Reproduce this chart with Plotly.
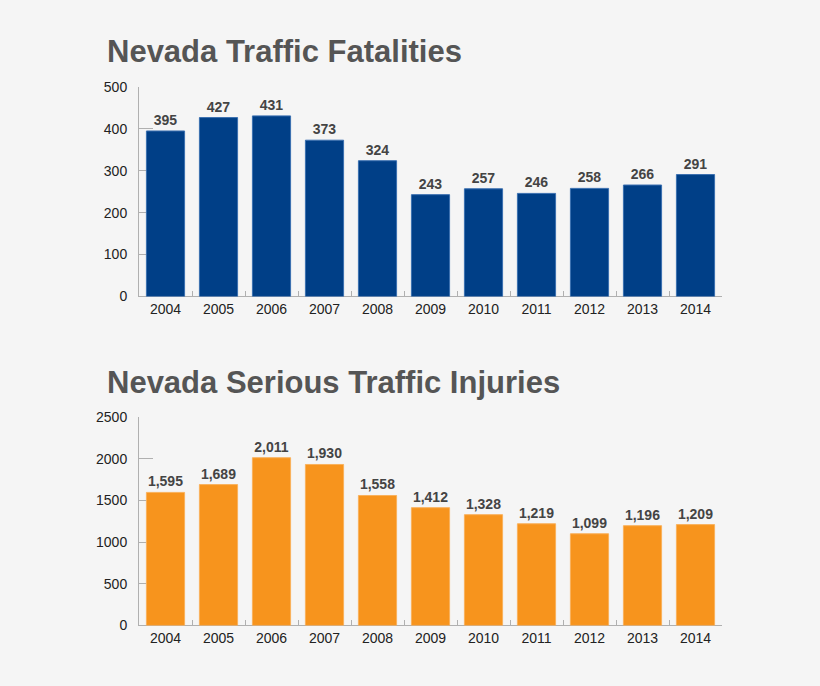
import plotly.graph_objects as go

# data
years = ["2004", "2005", "2006", "2007", "2008", "2009", "2010", "2011", "2012", "2013", "2014"]
fatalities = [395, 427, 431, 373, 324, 243, 257, 246, 258, 266, 291]
injuries = [1595, 1689, 2011, 1930, 1558, 1412, 1328, 1219, 1099, 1196, 1209]

W, H = 820, 686
BG = "#f5f5f5"

def py(pix):
    # wanted pixel row on the photo -> paper y
    # (the viewer draws the page ~8px down and squeezed to ~97.7% in height)
    return 1 - ((pix - 8) / 0.9768) / H

label_font = dict(family="Liberation Sans, Arial", size=14, color="#444444")

fig = go.Figure()

fig.add_trace(go.Bar(
    x=years, y=fatalities, xaxis="x", yaxis="y",
    marker=dict(color="#003f87", line=dict(color="#3a6fb0", width=1)),
    text=fatalities, texttemplate="<b>%{y:,}</b>", textposition="outside",
    textfont=label_font, cliponaxis=False, showlegend=False,
))
fig.add_trace(go.Bar(
    x=years, y=injuries, xaxis="x2", yaxis="y2",
    marker=dict(color="#f7941d", line=dict(color="#f9b15c", width=1)),
    text=injuries, texttemplate="<b>%{y:,}</b>", textposition="outside",
    textfont=label_font, cliponaxis=False, showlegend=False,
))

axis_font = dict(family="Liberation Sans, Arial", size=14, color="#222222")
xcommon = dict(
    domain=[139 / W, 722 / W], showline=True, linecolor="#b0b0b0", linewidth=1,
    ticks="inside", tickson="boundaries", ticklen=5, tickcolor="#b0b0b0",
    tickfont=axis_font, showgrid=False, zeroline=False, layer="below traces",
)
ycommon = dict(
    showline=True, linecolor="#b0b0b0", linewidth=1,
    ticks="inside", ticklen=14, tickcolor="#b0b0b0",
    tickfont=axis_font, showgrid=False, zeroline=False, ticklabelstandoff=8,
    layer="below traces",
)

title_font = dict(family="Liberation Sans, Arial", size=31, color="#555555")

fig.update_layout(
    width=W, height=H,
    margin=dict(l=0, r=0, t=0, b=0),
    paper_bgcolor=BG, plot_bgcolor=BG,
    bargap=0.28,
    xaxis=dict(xcommon, anchor="y"),
    yaxis=dict(ycommon, domain=[py(296.5), py(87)], range=[0, 500], dtick=100, anchor="x"),
    xaxis2=dict(xcommon, anchor="y2"),
    yaxis2=dict(ycommon, domain=[py(625.5), py(417)], range=[0, 2500], dtick=500, anchor="x2"),
    annotations=[
        dict(text="<b>Nevada Traffic Fatalities</b>", x=105 / W, y=py(51.5),
             xref="paper", yref="paper", xanchor="left", yanchor="middle", showarrow=False,
             font=title_font),
        dict(text="<b>Nevada Serious Traffic Injuries</b>", x=105 / W, y=py(383),
             xref="paper", yref="paper", xanchor="left", yanchor="middle", showarrow=False,
             font=title_font),
    ],
)

# pin the figure to the window corner, no page margin
pin = ("var d=document.getElementById('{plot_id}');"
       "d.style.position='fixed';d.style.top='0';d.style.left='0';"
       "document.body.style.margin='0';document.body.style.background='#f5f5f5';")
fig.write_html("out.html", post_script=pin, config={"displayModeBar": False})
